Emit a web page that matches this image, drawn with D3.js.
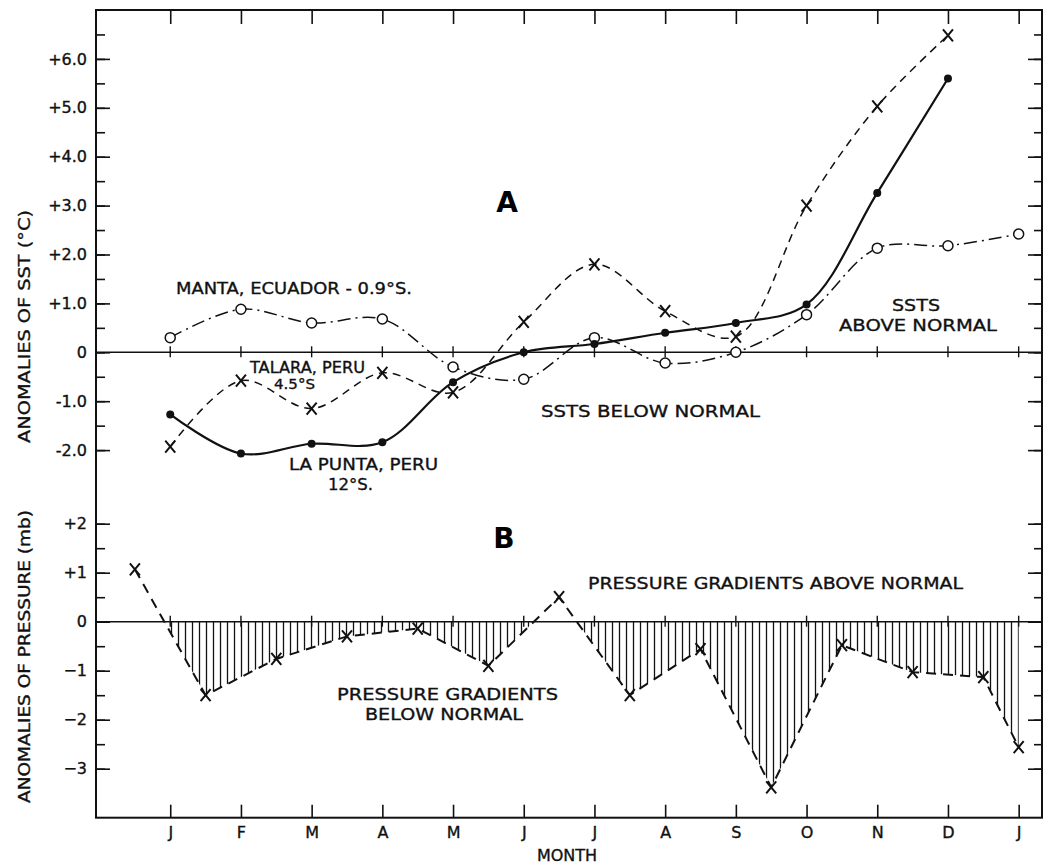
<!DOCTYPE html>
<html>
<head>
<meta charset="utf-8">
<script src="https://cdn.jsdelivr.net/npm/d3@7"></script>
<style>
  body { margin: 0; background: #fff; }
  svg { font-family: "DejaVu Sans", sans-serif; }
  .ann { font-size: 16px; fill: #111; stroke: #111; stroke-width: 0.35px; }
  .tick text { font-size: 16px; fill: #111; stroke: #111; stroke-width: 0.35px; font-family: "DejaVu Sans", sans-serif; }
</style>
</head>
<body>
<div id="chart"></div>
<script>
// month ticks along the bottom (J = 0 ... following J = 12)
var monthLabels = ['J','F','M','A','M','J','J','A','S','O','N','D','J'];
var monthPos = [0,1,2,3,4,5,6,7,8,9,10,11,12];

// panel A: SST anomalies (deg C), one value per month tick
var manta   = [0.3, 0.88, 0.6, 0.68, -0.3, -0.55, 0.3, -0.22, 0.0, 0.77, 2.13, 2.18, 2.42];
var talara  = [-1.93, -0.58, -1.15, -0.42, -0.82, 0.62, 1.8, 0.84, 0.32, 3.0, 5.03, 6.48];
var laPunta = [-1.27, -2.07, -1.87, -1.84, -0.61, 0.0, 0.17, 0.4, 0.6, 0.98, 3.26, 5.6];

// panel B: pressure gradient anomalies (mb), plotted mid-month
var pressPos = [-0.5, 0.5, 1.5, 2.5, 3.5, 4.5, 5.5, 6.5, 7.5, 8.5, 9.5, 10.5, 11.5, 12];
var pressure = [1.07, -1.5, -0.76, -0.3, -0.14, -0.9, 0.5, -1.5, -0.56, -3.38, -0.48, -1.03, -1.13, -2.56];

var sstMajor = [-2, -1, 0, 1, 2, 3, 4, 5, 6];
var sstLabels = ['-2.0', '-1.0', '0', '+1.0', '+2.0', '+3.0', '+4.0', '+5.0', '+6.0'];
var presMajor = [-3, -2, -1, 0, 1, 2];
var presLabels = ['\u22123', '\u22122', '\u22121', '0', '+1', '+2'];

var W = 1051, H = 865;
var fLeft = 96, fRight = 1042, fTop = 10, fBottom = 817.7;

var x = d3.scaleLinear().domain([-1.05, 12.33]).range([fLeft, fRight]);
var yA = d3.scaleLinear().domain([0, 7]).range([352.3, fTop]);
var yB = d3.scaleLinear().domain([-4, 0]).range([fBottom, 621.7]);

var svg = d3.select('#chart').append('svg')
    .attr('width', W)
    .attr('height', H);

// hatch pattern for negative pressure gradients
var defs = svg.append('defs');
var pat = defs.append('pattern')
    .attr('id', 'hatch')
    .attr('patternUnits', 'userSpaceOnUse')
    .attr('width', 7)
    .attr('height', 10);
pat.append('line')
    .attr('x1', 3.5).attr('x2', 3.5)
    .attr('y1', 0).attr('y2', 10)
    .style('stroke', '#111')
    .style('stroke-width', 1.3);
defs.append('clipPath').attr('id', 'belowZero')
    .append('rect')
    .attr('x', fLeft).attr('y', yB(0))
    .attr('width', fRight - fLeft).attr('height', fBottom - yB(0));

// frame
svg.append('rect')
    .attr('x', fLeft).attr('y', fTop)
    .attr('width', fRight - fLeft).attr('height', fBottom - fTop)
    .style('fill', 'none')
    .style('stroke', '#111')
    .style('stroke-width', 2);

// left axes (ticks point inward)
var halfSteps = function(a, b) { return d3.range(a * 2, b * 2 + 1).map(d => d / 2); };

svg.append('g').attr('transform', 'translate(' + fLeft + ',0)')
    .call(d3.axisLeft(yA).tickValues(halfSteps(-2, 6.5)).tickSize(-9).tickFormat(''))
    .call(g => g.select('.domain').remove());
svg.append('g').attr('transform', 'translate(' + fLeft + ',0)')
    .call(d3.axisLeft(yA).tickValues(sstMajor).tickSize(-14).tickPadding(9)
        .tickFormat((d, i) => sstLabels[i]))
    .call(g => g.select('.domain').remove());
svg.append('g').attr('transform', 'translate(' + fLeft + ',0)')
    .call(d3.axisLeft(yB).tickValues(halfSteps(-3, 2)).tickSize(-9).tickFormat(''))
    .call(g => g.select('.domain').remove());
svg.append('g').attr('transform', 'translate(' + fLeft + ',0)')
    .call(d3.axisLeft(yB).tickValues(presMajor).tickSize(-14).tickPadding(9)
        .tickFormat((d, i) => presLabels[i]))
    .call(g => g.select('.domain').remove());

// right axes, no labels
[[yA, halfSteps(-2, 6.5), sstMajor], [yB, halfSteps(-3, 2), presMajor]].forEach(function(a) {
    svg.append('g').attr('transform', 'translate(' + fRight + ',0)')
        .call(d3.axisRight(a[0]).tickValues(a[1]).tickSize(-8).tickFormat(''))
        .call(g => g.select('.domain').remove());
    svg.append('g').attr('transform', 'translate(' + fRight + ',0)')
        .call(d3.axisRight(a[0]).tickValues(a[2]).tickSize(-14).tickFormat(''))
        .call(g => g.select('.domain').remove());
});

// month axes top and bottom
svg.append('g').attr('transform', 'translate(0,' + fBottom + ')')
    .call(d3.axisBottom(x).tickValues(monthPos).tickSize(-13).tickPadding(9)
        .tickFormat((d, i) => monthLabels[i]))
    .call(g => g.select('.domain').remove());
svg.append('g').attr('transform', 'translate(0,' + fTop + ')')
    .call(d3.axisTop(x).tickValues(monthPos).tickSize(-14).tickFormat(''))
    .call(g => g.select('.domain').remove());
svg.selectAll('.tick line').style('stroke', '#111').style('stroke-width', 1.6);

// zero lines with month ticks
[yA, yB].forEach(function(ys) {
    svg.append('line')
        .attr('x1', fLeft).attr('x2', fRight)
        .attr('y1', ys(0)).attr('y2', ys(0))
        .style('stroke', '#111').style('stroke-width', 1.6);
    svg.append('g').selectAll('line').data(monthPos).join('line')
        .attr('x1', d => x(d)).attr('x2', d => x(d))
        .attr('y1', ys(0) - 6).attr('y2', ys(0) + 5)
        .style('stroke', '#111').style('stroke-width', 1.4);
});

// panel A series
var lineA = d3.line()
    .x((d, i) => x(monthPos[i]))
    .y(d => yA(d))
    .curve(d3.curveCatmullRom.alpha(0.5));

svg.append('path').datum(manta)
    .attr('d', lineA)
    .style('fill', 'none').style('stroke', '#111').style('stroke-width', 1.5)
    .style('stroke-dasharray', '13,5,2,5');
svg.append('path').datum(talara)
    .attr('d', lineA)
    .style('fill', 'none').style('stroke', '#111').style('stroke-width', 1.5)
    .style('stroke-dasharray', '8,6');
svg.append('path').datum(laPunta)
    .attr('d', lineA)
    .style('fill', 'none').style('stroke', '#111').style('stroke-width', 2.2);

svg.append('g').selectAll('circle').data(manta).join('circle')
    .attr('cx', (d, i) => x(monthPos[i]))
    .attr('cy', d => yA(d))
    .attr('r', 5)
    .style('fill', '#fff').style('stroke', '#111').style('stroke-width', 1.5);
svg.append('g').selectAll('circle').data(laPunta).join('circle')
    .attr('cx', (d, i) => x(monthPos[i]))
    .attr('cy', d => yA(d))
    .attr('r', 4)
    .style('fill', '#111');

var cross = function(g, px, py) {
    g.append('path')
        .attr('d', 'M' + (px - 5) + ',' + (py - 6) + 'L' + (px + 5) + ',' + (py + 6) +
                   'M' + (px + 5) + ',' + (py - 6) + 'L' + (px - 5) + ',' + (py + 6))
        .style('stroke', '#111').style('stroke-width', 2).style('fill', 'none');
};
var xsA = svg.append('g');
talara.forEach((d, i) => cross(xsA, x(monthPos[i]), yA(d)));

// panel B: hatched area and dashed line
var presPts = pressure.map((d, i) => [pressPos[i], d]);
svg.append('path').datum(presPts)
    .attr('clip-path', 'url(#belowZero)')
    .attr('d', d3.area().x(d => x(d[0])).y0(yB(0)).y1(d => yB(d[1])))
    .style('fill', 'url(#hatch)');
svg.append('path').datum(presPts)
    .attr('d', d3.line().x(d => x(d[0])).y(d => yB(d[1])))
    .style('fill', 'none').style('stroke', '#111').style('stroke-width', 2)
    .style('stroke-dasharray', '10,7');
var xsB = svg.append('g');
presPts.forEach(d => cross(xsB, x(d[0]), yB(d[1])));

// annotations: text, x, baseline, width, size
var anns = [
    ['MANTA, ECUADOR - 0.9\u00b0S.', 176, 294, 236, 16],
    ['TALARA, PERU', 250, 373, 115, 15],
    ['4.5\u00b0S', 274, 389, 41, 14],
    ['LA PUNTA, PERU', 289, 470, 149, 16],
    ['12\u00b0S.', 328, 490, 45, 16],
    ['SSTS BELOW NORMAL', 541, 417, 219, 16],
    ['SSTS', 892, 311, 48, 16],
    ['ABOVE NORMAL', 839, 331, 158, 16],
    ['PRESSURE GRADIENTS ABOVE NORMAL', 588, 589, 375, 16],
    ['PRESSURE GRADIENTS', 337, 700, 221, 16],
    ['BELOW NORMAL', 365, 720, 158, 16]
];
svg.append('g').selectAll('text').data(anns).join('text')
    .attr('class', 'ann')
    .attr('x', d => d[1]).attr('y', d => d[2])
    .attr('textLength', d => d[3])
    .attr('lengthAdjust', 'spacingAndGlyphs')
    .style('font-size', d => d[4] + 'px')
    .text(d => d[0]);

svg.append('text').attr('x', 507).attr('y', 212)
    .attr('text-anchor', 'middle')
    .style('font-size', '28px').style('font-weight', 'bold')
    .text('A');
svg.append('text').attr('x', 504).attr('y', 548)
    .attr('text-anchor', 'middle')
    .style('font-size', '28px').style('font-weight', 'bold')
    .text('B');

// axis titles
svg.append('text')
    .attr('class', 'ann')
    .attr('transform', 'translate(30,' + 443 + ') rotate(-90)')
    .attr('textLength', 233).attr('lengthAdjust', 'spacingAndGlyphs')
    .text('ANOMALIES OF SST (\u00b0C)');
svg.append('text')
    .attr('class', 'ann')
    .attr('transform', 'translate(30,' + 803 + ') rotate(-90)')
    .attr('textLength', 293).attr('lengthAdjust', 'spacingAndGlyphs')
    .text('ANOMALIES OF PRESSURE (mb)');
svg.append('text')
    .attr('class', 'ann')
    .attr('x', 567).attr('y', 861)
    .attr('text-anchor', 'middle')
    .text('MONTH');
</script>
</body>
</html>
